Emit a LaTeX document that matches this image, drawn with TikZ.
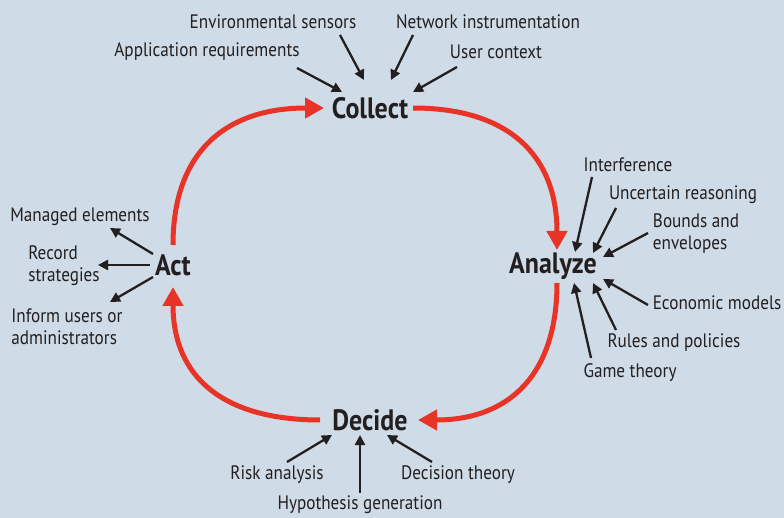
\documentclass[tikz,border=0pt]{standalone}
\usepackage{fontspec}
\setmainfont{PT Sans}[FakeStretch=0.88]
\usetikzlibrary{arrows.meta,calc,positioning}
\definecolor{bgblue}{RGB}{207,219,230}
\definecolor{cyclered}{RGB}{232,52,38}
\definecolor{inkblack}{RGB}{35,31,32}

\begin{document}
\begin{tikzpicture} [
    x=1pt, y=1pt,
    stage/.style={font=\bfseries\fontsize{29.5}{32}\selectfont, text=inkblack, inner sep=0pt},
    lbl/.style={font=\fontsize{19.5}{22}\selectfont, text=inkblack, inner sep=0pt, align=left},
    loop/.style={draw=cyclered, line width=5pt, -{Triangle[length=19pt,width=20pt]}},
    feed/.style={draw=inkblack, line width=2.3pt, -{Triangle[length=10pt,width=10pt]}}
    ]
    \fill[bgblue] (0,0) rectangle (784,-518);
    \useasboundingbox (0,0) rectangle (784,-518);

    %Stages
    \node[stage] (collect) at (370,-108) {Collect};
    \node[stage] (analyze) at (553,-266) {Analyze};
    \node[stage] (decide)  at (370,-420) {Decide};
    \node[stage] (act)     at (173,-265) {Act};

    %Labels
    \node[lbl] (appreq)    at (207,-52)  {Application requirements};
    \node[lbl] (envsens)   at (273,-22)  {Environmental sensors};
    \node[lbl] (netinst)   at (488,-22)  {Network instrumentation};
    \node[lbl] (usrctx)    at (496,-52)  {User context};
    \node[lbl] (interf)    at (628,-165) {Interference};
    \node[lbl] (uncert)    at (683,-195) {Uncertain reasoning};
    \node[lbl] (bounds)    at (696,-234) {Bounds and\\envelopes};
    \node[lbl] (econ)      at (717,-303) {Economic models};
    \node[lbl] (rules)     at (674,-343) {Rules and policies};
    \node[lbl] (game)      at (630,-373) {Game theory};
    \node[lbl] (managed)   at (80,-217)  {Managed elements};
    \node[lbl] (record)    at (64,-266)  {Record\\strategies};
    \node[lbl] (inform)    at (67,-327)  {Inform users or\\administrators};
    \node[lbl] (risk)      at (277,-475) {Risk analysis};
    \node[lbl] (hypo)      at (360,-505) {Hypothesis generation};
    \node[lbl] (dectheory) at (458,-475) {Decision theory};

    %Cycle
    \draw[loop] ($(collect)+(43,0)$) to[out=0,in=90,looseness=1.2] ($(analyze)+(4,16)$);
    \draw[loop] ($(analyze)+(4,-17)$) to[out=-90,in=0,looseness=1.2] ($(decide)+(48,0)$);
    \draw[loop] ($(decide)+(-50,0)$) to[out=180,in=-90,looseness=1.2] ($(act)+(0,-22)$);
    \draw[loop] ($(act)+(0,20)$) to[out=90,in=180,looseness=1.2] ($(collect)+(-46,0)$);

    %Inputs
    \draw[feed] ($(appreq)+(90,-16)$) -- ($(collect)+(-28,16)$);
    \draw[feed] ($(envsens)+(67,-13)$) -- ($(collect)+(-6,28)$);
    \draw[feed] ($(netinst)+(-75,-13)$) -- ($(collect)+(21,28)$);
    \draw[feed] ($(usrctx)+(-39,-15)$) -- ($(collect)+(43,16)$);

    \draw[feed] ($(interf)+(-36,-12)$) -- ($(analyze)+(22,14)$);
    \draw[feed] ($(uncert)+(-67,-13)$) -- ($(analyze)+(40,13)$);
    \draw[feed] ($(bounds)+(-48,1)$) -- ($(analyze)+(50,9)$);
    \draw[feed] ($(econ)+(-69,-2)$) -- ($(analyze)+(50,-13)$);
    \draw[feed] ($(rules)+(-58,13)$) -- ($(analyze)+(40,-17)$);
    \draw[feed] ($(game)+(-39,15)$) -- ($(analyze)+(21,-17)$);

    \draw[feed] ($(risk)+(10,13)$) -- ($(decide)+(-38,-15)$);
    \draw[feed] ($(hypo)+(0,12)$) -- ($(decide)+(-10,-15)$);
    \draw[feed] ($(dectheory)+(-26,13)$) -- ($(decide)+(17,-15)$);

    %Outputs
    \draw[feed] ($(act)+(-20,11)$) -- ($(managed)+(30,-11)$);
    \draw[feed] ($(act)+(-23,0)$) -- ($(record)+(34,1)$);
    \draw[feed] ($(act)+(-20,-12)$) -- ($(inform)+(43,25)$);

\end{tikzpicture}
\end{document}
